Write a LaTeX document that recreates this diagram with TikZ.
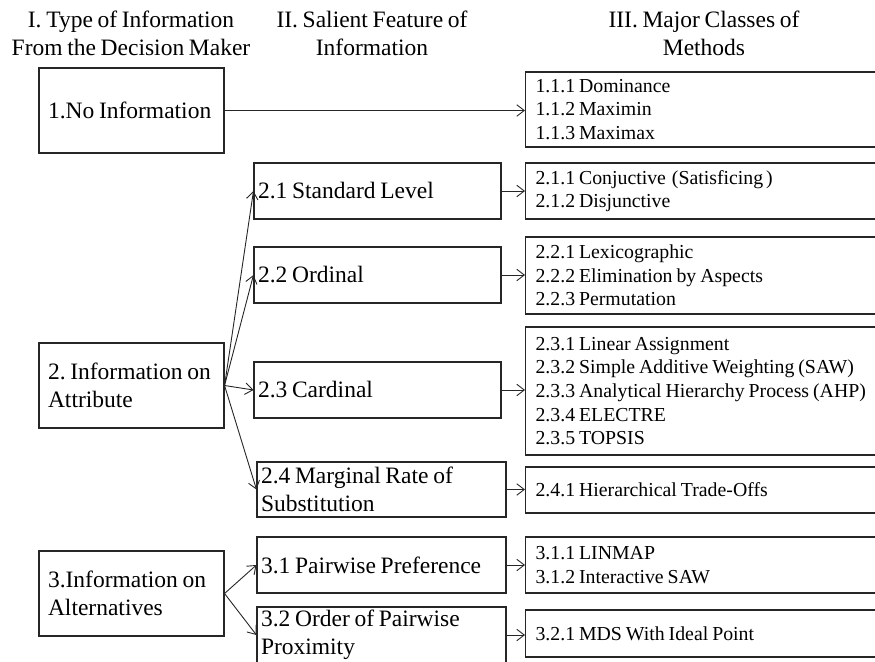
\documentclass[tikz,border=0pt]{standalone}
\usepackage{fontspec}
\setmainfont{Liberation Serif}
\usetikzlibrary{arrows.meta}
\frenchspacing
% narrow interword spaces
\newcommand{\narrowspaces}{\spaceskip=0.2em plus 0.02em\relax\xspaceskip=0.2em\relax}
\begin{document}
\begin{tikzpicture}[x=1pt,y=-1pt,
  bigtext/.style={font=\fontsize{23.5}{28}\selectfont, execute at begin node=\narrowspaces},
  frame/.style={draw=black!85, line width=1.1pt, rectangle, align=flush left},
  typebox/.style={frame, bigtext, anchor=center, minimum width=185pt, minimum height=85pt,
    inner xsep=9pt, inner ysep=2pt, text width=167pt},
  featbox/.style={frame, bigtext, anchor=center, inner xsep=4pt, inner ysep=1pt},
  methbox/.style={frame, anchor=west, inner xsep=10pt, inner ysep=1pt,
    text width=400pt, font=\fontsize{19.8}{23.6}\selectfont, execute at begin node=\narrowspaces},
  head/.style={bigtext, align=center, inner sep=0pt},
  link/.style={draw=black!85, line width=0.9pt, -{Straight Barb[length=7.5pt,width=11.5pt]}}
]
\useasboundingbox (0,0) rectangle (875,661);
\clip (0,0) rectangle (875,661);

% column headings
\node[head] (h1) at (131,33) {I. Type of Information\\From the Decision Maker};
\node[head] (h2) at (372,33) {II. Salient Feature of\\Information};
\node[head] (h3) at (704,33) {III. Major Classes of\\Methods};

% I. type of information
\node[typebox] (n1) at (131.5,110.5) {1.No Information};
\node[typebox] (n2) at (131.5,385.5) {2. Information on\\Attribute};
\node[typebox] (n3) at (131.5,593.5) {3.Information on\\Alternatives};

% II. salient features
\node[featbox, text width=239pt, minimum height=56pt] (s21) at (377.5,191) {2.1 Standard Level};
\node[featbox, text width=239pt, minimum height=56pt] (s22) at (377.5,275) {2.2 Ordinal};
\node[featbox, text width=239pt, minimum height=56pt] (s23) at (377.5,390) {2.3 Cardinal};
\node[featbox, text width=241pt, minimum height=55pt] (s24) at (381.5,489.5) {2.4 Marginal Rate of\\Substitution};
\node[featbox, text width=241pt, minimum height=56pt] (s31) at (381.5,565) {3.1 Pairwise Preference};
\node[featbox, text width=241pt, minimum height=56pt] (s32) at (381.5,635) {3.2 Order of Pairwise\\Proximity};

% III. classes of methods (boxes run on past the right margin)
\node[methbox, minimum height=75pt] (m11) at (525,109.5)
  {1.1.1 Dominance\\1.1.2 Maximin\\1.1.3 Maximax};
\node[methbox, minimum height=56pt] (m21) at (525,191)
  {2.1.1 Conjuctive\hspace{0.3em}(Satisficing\hspace{0.15em})\\2.1.2 Disjunctive};
\node[methbox, minimum height=77pt] (m22) at (525,275.5)
  {2.2.1 Lexicographic\\2.2.2 Elimination by Aspects\\2.2.3 Permutation};
\node[methbox, minimum height=128pt] (m23) at (525,391)
  {2.3.1 Linear Assignment\\2.3.2 Simple Additive Weighting (SAW)\\2.3.3 Analytical Hierarchy Process (AHP)\\2.3.4 ELECTRE\\2.3.5 TOPSIS};
\node[methbox, minimum height=46pt] (m24) at (525,490) {2.4.1 Hierarchical Trade-Offs};
\node[methbox, minimum height=56pt] (m31) at (525,565) {3.1.1 LINMAP\\3.1.2 Interactive SAW};
\node[methbox, minimum height=47pt] (m32) at (525,633.5) {3.2.1 MDS With Ideal Point};

% connectors
\draw[link] (n1.east) -- (n1.east -| m11.west);
\foreach \s in {s21,s22,s23,s24}
  \draw[link] (n2.east) -- (\s.west);
\draw[link] (n3.east) -- (s31.west);
\draw[link] (n3.east) -- (s32.west);
\draw[link] (s21.east) -- (s21.east -| m21.west);
\draw[link] (s22.east) -- (s22.east -| m22.west);
\draw[link] (s23.east) -- (s23.east -| m23.west);
\draw[link] (s24.east) -- (s24.east -| m24.west);
\draw[link] (s31.east) -- (s31.east -| m31.west);
\draw[link] (s32.east) -- (s32.east -| m32.west);
\end{tikzpicture}
\end{document}
